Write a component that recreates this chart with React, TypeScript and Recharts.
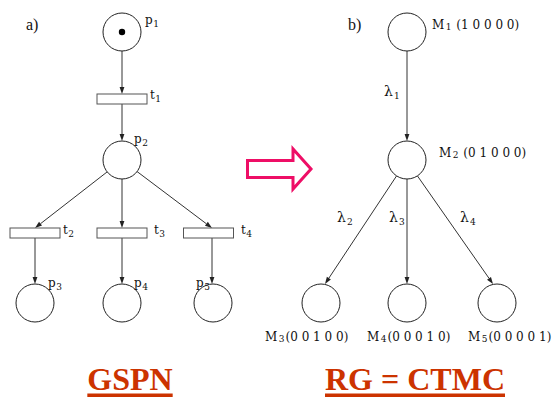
import React from 'react';
import { ScatterChart, Scatter, XAxis, YAxis, ReferenceLine } from 'recharts';

const W = 559;
const H = 398;

// Places of the GSPN (left) and states of the reachability graph (right)
const places = [
  { name: 'p1', x: 122, y: 32, tokens: 1 },
  { name: 'p2', x: 122, y: 160, tokens: 0 },
  { name: 'p3', x: 35, y: 303, tokens: 0 },
  { name: 'p4', x: 122, y: 303, tokens: 0 },
  { name: 'p5', x: 213, y: 303, tokens: 0 },
];
const states = [
  { name: 'M1', x: 407, y: 32, tokens: 0 },
  { name: 'M2', x: 407, y: 160, tokens: 0 },
  { name: 'M3', x: 321, y: 303, tokens: 0 },
  { name: 'M4', x: 407, y: 303, tokens: 0 },
  { name: 'M5', x: 497, y: 303, tokens: 0 },
];
const transitions = [
  { name: 't1', x: 122, y: 99 },
  { name: 't2', x: 35, y: 233 },
  { name: 't3', x: 122, y: 233 },
  { name: 't4', x: 208.5, y: 233 },
];
const arcs = [
  { x1: 122, y1: 51, x2: 122, y2: 94 },
  { x1: 122, y1: 104, x2: 122, y2: 141 },
  { x1: 107, y1: 172, x2: 35, y2: 228 },
  { x1: 122, y1: 179, x2: 122, y2: 228 },
  { x1: 137, y1: 171.5, x2: 212, y2: 228 },
  { x1: 35, y1: 238, x2: 35, y2: 284 },
  { x1: 122, y1: 238, x2: 122, y2: 284 },
  { x1: 212, y1: 238, x2: 212, y2: 284 },
  { x1: 407, y1: 51, x2: 407, y2: 141 },
  { x1: 396.5, y1: 176, x2: 325, y2: 284 },
  { x1: 407, y1: 179, x2: 407, y2: 284 },
  { x1: 417.5, y1: 176, x2: 493, y2: 284 },
];
const nodeLabels = [
  { x: 145, y: 24, main: 'p', sub: '1', rest: '' },
  { x: 134, y: 143, main: 'p', sub: '2', rest: '' },
  { x: 48, y: 287, main: 'p', sub: '3', rest: '' },
  { x: 134, y: 287, main: 'p', sub: '4', rest: '' },
  { x: 196, y: 287, main: 'p', sub: '5', rest: '' },
  { x: 150, y: 99, main: 't', sub: '1', rest: '' },
  { x: 63, y: 234, main: 't', sub: '2', rest: '' },
  { x: 154, y: 234, main: 't', sub: '3', rest: '' },
  { x: 241, y: 234, main: 't', sub: '4', rest: '' },
  { x: 432, y: 29, main: 'M', sub: '1', rest: ' (1 0 0 0 0)' },
  { x: 439, y: 157, main: 'M', sub: '2', rest: ' (0 1 0 0 0)' },
  { x: 265, y: 341, main: 'M', sub: '3', rest: '(0 0 1 0 0)' },
  { x: 367, y: 341, main: 'M', sub: '4', rest: '(0 0 0 1 0)' },
  { x: 468, y: 341, main: 'M', sub: '5', rest: '(0 0 0 0 1)' },
];
const rateLabels = [
  { x: 384, y: 96, sub: '1' },
  { x: 337, y: 222, sub: '2' },
  { x: 389, y: 222, sub: '3' },
  { x: 460, y: 222, sub: '4' },
];
const panelLabels = [
  { x: 26, y: 30, text: 'a)' },
  { x: 348, y: 30, text: 'b)' },
];
const bigArrow = [{ x: 279, y: 169 }];
const titles = [
  { x: 130, y: 390, text: 'GSPN' },
  { x: 415, y: 390, text: 'RG = CTMC' },
];

const SERIF = 'DejaVu Serif';
const TIMES = 'Liberation Serif';
const TITLE_FONT = 'bold 32px "Liberation Serif"';

const measure = (text: string, font: string) => {
  try {
    const c = document.createElement('canvas').getContext('2d');
    if (c) {
      c.font = font;
      return c.measureText(text).width;
    }
  } catch (e) {}
  return text.length * 18;
};

const PlaceShape = (props: any) => {
  const { cx, cy, payload } = props;
  return (
    <g>
      <circle cx={cx} cy={cy} r={19} fill="#fff" stroke="#222" strokeWidth={1} />
      {payload.tokens > 0 && <circle cx={cx} cy={cy} r={3.2} fill="#000" />}
    </g>
  );
};

const TransitionShape = (props: any) => {
  const { cx, cy } = props;
  return <rect x={cx - 25} y={cy - 5} width={50} height={10} fill="#fff" stroke="#555" strokeWidth={1} />;
};

const ArcShape = (props: any) => {
  const { x1, y1, x2, y2 } = props;
  const dx = x2 - x1;
  const dy = y2 - y1;
  const len = Math.sqrt(dx * dx + dy * dy) || 1;
  const ux = dx / len;
  const uy = dy / len;
  const hl = 7;
  const hw = 2.4;
  const bx = x2 - ux * hl;
  const by = y2 - uy * hl;
  const pts = `${x2},${y2} ${bx - uy * hw},${by + ux * hw} ${bx + uy * hw},${by - ux * hw}`;
  return (
    <g>
      <line x1={x1} y1={y1} x2={bx} y2={by} stroke="#333" strokeWidth={1} />
      <polygon points={pts} fill="#222" />
    </g>
  );
};

const NodeLabelShape = (props: any) => {
  const { cx, cy, payload } = props;
  const isM = payload.main === 'M';
  return (
    <text x={cx} y={cy} fontSize={12} fill="#111" style={{ whiteSpace: 'pre', fontFamily: SERIF }}>
      <tspan>{payload.main}</tspan>
      <tspan fontSize={9} dx={isM ? 1.5 : 0.5} dy={isM ? 1 : 3}>{payload.sub}</tspan>
      {payload.rest && <tspan dy={isM ? -1 : -3} dx={1}>{payload.rest}</tspan>}
    </text>
  );
};

const RateLabelShape = (props: any) => {
  const { cx, cy, payload } = props;
  return (
    <text x={cx} y={cy} fontSize={14} fill="#111" style={{ fontFamily: SERIF }}>
      <tspan>λ</tspan>
      <tspan fontSize={9} dx={1} dy={3}>{payload.sub}</tspan>
    </text>
  );
};

const PanelLabelShape = (props: any) => {
  const { cx, cy, payload } = props;
  return (
    <text x={cx} y={cy} fontSize={16} fill="#111" style={{ fontFamily: TIMES }}>
      {payload.text}
    </text>
  );
};

const BigArrowShape = (props: any) => {
  const { cx, cy } = props;
  const pts = [
    [cx - 31.5, cy - 8.5],
    [cx + 14, cy - 8.5],
    [cx + 14, cy - 20],
    [cx + 32, cy],
    [cx + 14, cy + 20],
    [cx + 14, cy + 8.5],
    [cx - 31.5, cy + 8.5],
  ]
    .map((p) => p.join(','))
    .join(' ');
  return <polygon points={pts} fill="#fff" stroke="#ee0e66" strokeWidth={3} strokeLinejoin="miter" />;
};

const TitleShape = (props: any) => {
  const { cx, cy, payload } = props;
  const w = measure(payload.text, TITLE_FONT);
  return (
    <g>
      <text
        x={cx}
        y={cy}
        textAnchor="middle"
        fontWeight="bold"
        fontSize={32}
        fill="#cc3300"
        style={{ fontFamily: TIMES }}
      >
        {payload.text}
      </text>
      <rect x={cx - w / 2} y={cy + 3.5} width={w} height={3.5} fill="#cc3300" />
    </g>
  );
};

export default function App() {
  return (
    <div style={{ position: 'absolute', left: 0, top: 0, width: W, height: H, background: '#fff' }}>
      <ScatterChart width={W} height={H} margin={{ top: 0, right: 0, bottom: 0, left: 0 }}>
        <XAxis type="number" dataKey="x" domain={[0, W]} hide allowDataOverflow />
        <YAxis type="number" dataKey="y" domain={[0, H]} reversed hide allowDataOverflow />
        {arcs.map((a, i) => (
          <ReferenceLine
            key={`arc-${i}`}
            segment={[
              { x: a.x1, y: a.y1 },
              { x: a.x2, y: a.y2 },
            ]}
            ifOverflow="visible"
            shape={ArcShape}
          />
        ))}
        <Scatter data={places} shape={PlaceShape} isAnimationActive={false} />
        <Scatter data={states} shape={PlaceShape} isAnimationActive={false} />
        <Scatter data={transitions} shape={TransitionShape} isAnimationActive={false} />
        <Scatter data={nodeLabels} shape={NodeLabelShape} isAnimationActive={false} />
        <Scatter data={rateLabels} shape={RateLabelShape} isAnimationActive={false} />
        <Scatter data={panelLabels} shape={PanelLabelShape} isAnimationActive={false} />
        <Scatter data={bigArrow} shape={BigArrowShape} isAnimationActive={false} />
        <Scatter data={titles} shape={TitleShape} isAnimationActive={false} />
      </ScatterChart>
    </div>
  );
}
